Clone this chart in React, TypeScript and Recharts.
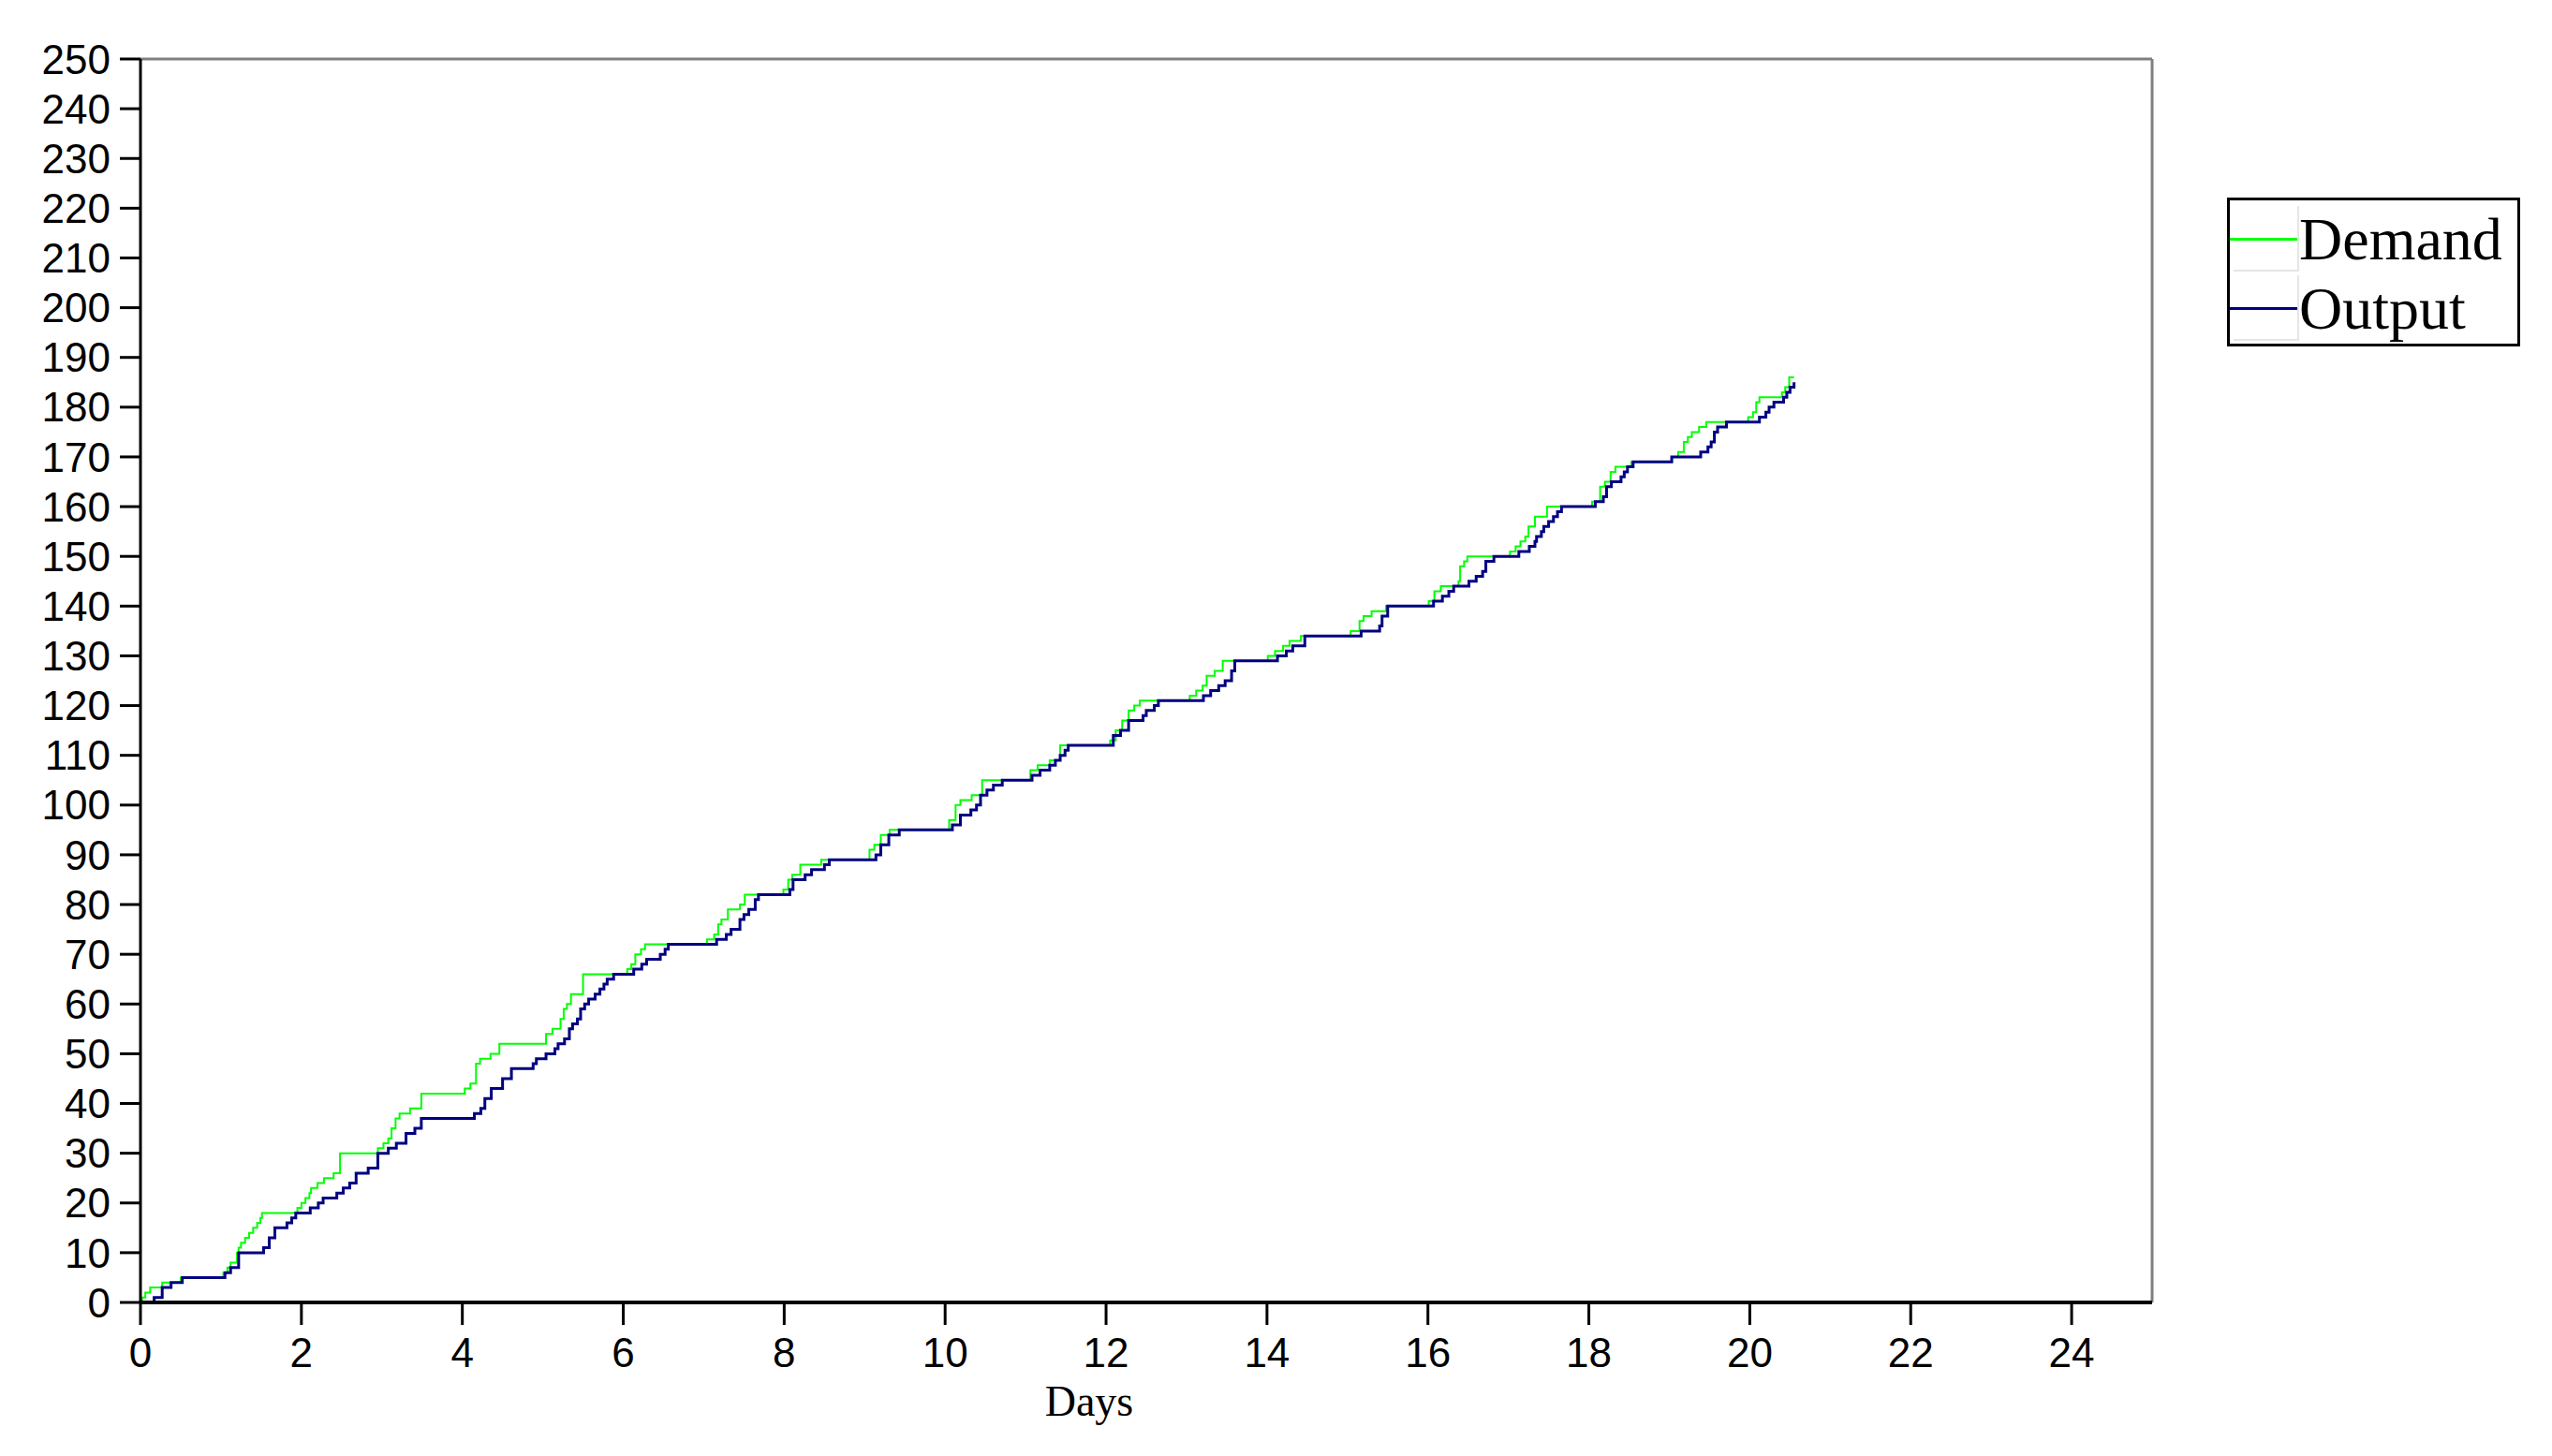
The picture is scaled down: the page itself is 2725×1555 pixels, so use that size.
import { LineChart, Line, XAxis, YAxis, ReferenceLine, Label } from 'recharts';

// cumulative demand (day, count), drawn as steps
const demandDays = [
  0, 0.02, 0.06, 0.12, 0.27, 0.5, 1.03, 1.08, 1.12, 1.2, 1.22, 1.25, 1.3, 1.35, 1.4, 1.45, 1.49, 1.51,
  1.95, 2.0, 2.05, 2.1, 2.12, 2.2, 2.28, 2.4, 2.48, 2.95, 3.02, 3.08, 3.12, 3.17, 3.22, 3.35, 3.49,
  4.03, 4.1, 4.17, 4.22, 4.35, 4.46, 5.04, 5.12, 5.22, 5.26, 5.3, 5.35, 5.5, 6.05, 6.1, 6.15, 6.22, 6.27,
  7.04, 7.13, 7.18, 7.22, 7.3, 7.45, 7.51, 7.99, 8.05, 8.1, 8.2, 8.32, 8.46, 9.06, 9.12, 9.2, 9.31,
  10.05, 10.13, 10.19, 10.33, 10.46, 11.06, 11.15, 11.3, 11.43, 12.05, 12.12, 12.2, 12.28, 12.35, 12.42,
  13.04, 13.12, 13.2, 13.25, 13.35, 13.45, 14.01, 14.1, 14.2, 14.28, 14.36, 14.42, 15.04, 15.15, 15.2,
  15.3, 15.48, 16.01, 16.08, 16.16, 16.38, 16.4, 16.45, 16.49, 17.02, 17.09, 17.15, 17.21, 17.25, 17.33,
  17.48, 18.04, 18.14, 18.2, 18.27, 18.33, 18.53, 19.03, 19.11, 19.18, 19.23, 19.28, 19.37, 19.46,
  19.98, 20.04, 20.08, 20.12, 20.4, 20.44, 20.49, 20.55,
];
const demandCount = [
  0, 1, 2, 3, 4, 5, 6, 7, 8, 10, 11, 12, 13, 14, 15, 16, 17, 18,
  19, 20, 21, 22, 23, 24, 25, 26, 30, 31, 32, 33, 35, 37, 38, 39, 42,
  43, 44, 48, 49, 50, 52, 54, 55, 57, 59, 60, 62, 66, 67, 68, 70, 71, 72,
  73, 74, 76, 77, 79, 80, 82, 83, 85, 86, 88, 88, 89, 91, 92, 94, 95,
  97, 100, 101, 102, 105, 107, 108, 109, 112, 113, 115, 117, 119, 120, 121,
  122, 123, 124, 126, 127, 129, 130, 131, 132, 133, 133, 134, 135, 137, 138,
  139, 140, 141, 143, 144, 145, 148, 149, 150, 151, 152, 153, 154, 156, 158,
  160, 161, 164, 165, 167, 168, 169, 170, 171, 173, 174, 175, 176, 177,
  178, 179, 181, 182, 183, 184, 186, 186,
];

// cumulative output
const outputDays = [
  0, 0.17, 0.27, 0.38, 0.52, 1.05, 1.12, 1.22, 1.53, 1.6, 1.67, 1.82, 1.88, 1.93,
  2.11, 2.21, 2.27, 2.44, 2.52, 2.6, 2.68, 2.83, 2.95, 3.08, 3.18, 3.3, 3.41, 3.49,
  4.15, 4.23, 4.28, 4.36, 4.5, 4.61, 4.88, 4.92, 5.04, 5.15, 5.19, 5.27, 5.33, 5.37, 5.43, 5.47,
  5.52, 5.57, 5.65, 5.71, 5.76, 5.8, 5.88, 6.13, 6.23, 6.29, 6.46, 6.52, 6.56,
  7.16, 7.28, 7.34, 7.45, 7.5, 7.56, 7.64, 7.68, 8.07, 8.11, 8.26, 8.34, 8.5, 8.56,
  9.14, 9.2, 9.3, 9.43, 10.09, 10.19, 10.32, 10.39, 10.44, 10.52, 10.6, 10.71,
  11.08, 11.18, 11.3, 11.37, 11.43, 11.49, 11.53, 12.09, 12.18, 12.28, 12.46, 12.5, 12.6, 12.65,
  13.21, 13.3, 13.4, 13.48, 13.56, 13.6, 14.13, 14.24, 14.32, 14.47, 15.17, 15.4, 15.43, 15.5,
  16.07, 16.18, 16.26, 16.32, 16.51, 16.6, 16.68, 16.72, 16.82, 17.13, 17.26, 17.33, 17.35,
  17.41, 17.44, 17.5, 17.56, 17.61, 17.66, 18.08, 18.18, 18.22, 18.28, 18.4, 18.44, 18.48, 18.55,
  19.03, 19.39, 19.48, 19.52, 19.56, 19.6, 19.71, 20.12, 20.2, 20.24, 20.3, 20.42, 20.46, 20.5, 20.55,
];
const outputCount = [
  0, 1, 3, 4, 5, 6, 7, 10, 11, 13, 15, 16, 17, 18,
  19, 20, 21, 22, 23, 24, 26, 27, 30, 31, 32, 34, 35, 37,
  38, 39, 41, 43, 45, 47, 48, 49, 50, 51, 52, 53, 55, 56, 57, 59,
  60, 61, 62, 63, 64, 65, 66, 67, 68, 69, 70, 71, 72,
  73, 74, 75, 77, 78, 79, 81, 82, 83, 85, 86, 87, 88, 89,
  90, 92, 94, 95, 96, 98, 99, 100, 102, 103, 104, 105,
  106, 107, 108, 109, 110, 111, 112, 114, 115, 117, 118, 119, 120, 121,
  122, 123, 124, 125, 127, 129, 130, 131, 132, 134, 135, 136, 138, 140,
  141, 142, 143, 144, 145, 146, 147, 149, 150, 151, 152, 153, 154,
  155, 156, 157, 158, 159, 160, 161, 162, 164, 165, 166, 167, 168, 169,
  170, 171, 172, 173, 175, 176, 177, 178, 179, 180, 181, 182, 183, 184, 185,
];

const xTicks = [0, 2, 4, 6, 8, 10, 12, 14, 16, 18, 20, 22, 24];
const yTicks = [0, 10, 20, 30, 40, 50, 60, 70, 80, 90, 100, 110, 120, 130, 140, 150, 160, 170, 180, 190, 200, 210, 220, 230, 240, 250];

const demand = demandDays.map((t, i) => ({ t, v: demandCount[i] }));
const output = outputDays.map((t, i) => ({ t, v: outputCount[i] }));

const tickFont = { fontFamily: '"Liberation Sans", Arial, sans-serif', fontSize: 44, fill: '#000' };
const serif = '"Liberation Serif", "Times New Roman", serif';

function LegendBox() {
  const row = (color: string, text: string, top: number) => (
    <div style={{ position: 'absolute', left: 0, top, height: 72, width: 310 }}>
      <div
        style={{
          position: 'absolute', left: 4, top: 0, width: 68, height: 68,
          borderRight: '2px solid #e6e6e6', borderBottom: '2px solid #e6e6e6',
        }}
      />
      <div style={{ position: 'absolute', left: 0, top: 34, width: 72, height: 3, background: color }} />
      <div
        style={{
          position: 'absolute', left: 74, top: 0, fontFamily: serif, fontSize: 64,
          lineHeight: '72px', color: '#000', whiteSpace: 'nowrap',
        }}
      >
        {text}
      </div>
    </div>
  );
  return (
    <div
      style={{
        position: 'absolute', left: 2378, top: 211, width: 307, height: 153,
        border: '3px solid #000', background: '#fff',
      }}
    >
      {row('#00ff00', 'Demand', 6)}
      {row('#000080', 'Output', 80)}
    </div>
  );
}

export default function App() {
  return (
    <div style={{ position: 'absolute', left: 0, top: 0, width: 2725, height: 1555, background: '#fff' }}>
      <LineChart width={2725} height={1555} margin={{ top: 63, right: 427, bottom: 0, left: 0 }}>
        <XAxis
          type="number"
          dataKey="t"
          domain={[0, 25]}
          ticks={xTicks}
          interval={0}
          height={164}
          tick={tickFont}
          tickSize={24}
          tickMargin={14}
          axisLine={{ stroke: '#000', strokeWidth: 4 }}
          tickLine={{ stroke: '#000', strokeWidth: 3 }}
        >
          <Label
            value="Days"
            position="insideBottom"
            offset={43}
            dx={-61}
            style={{ fontFamily: serif, fontSize: 46, fill: '#000' }}
          />
        </XAxis>
        <YAxis
          type="number"
          domain={[0, 250]}
          ticks={yTicks}
          interval={0}
          width={150}
          tick={tickFont}
          tickSize={22}
          tickMargin={10}
          axisLine={{ stroke: '#000', strokeWidth: 3 }}
          tickLine={{ stroke: '#000', strokeWidth: 3 }}
        />
        <ReferenceLine y={250} stroke="#808080" strokeWidth={3} />
        <ReferenceLine x={25} stroke="#808080" strokeWidth={3} />
        <Line
          data={demand}
          dataKey="v"
          type="stepAfter"
          stroke="#00ff00"
          strokeWidth={2}
          dot={false}
          isAnimationActive={false}
        />
        <Line
          data={output}
          dataKey="v"
          type="stepAfter"
          stroke="#000080"
          strokeWidth={3}
          dot={false}
          isAnimationActive={false}
        />
      </LineChart>
      <LegendBox />
    </div>
  );
}
